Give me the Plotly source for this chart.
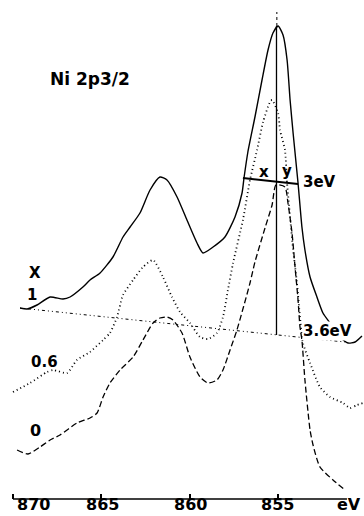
import plotly.graph_objects as go

# Binding energy (eV) and intensity (arb. units)
x1_ev = [869.6, 869.2, 868.64, 867.9, 867.17, 866.77, 866.04, 865.64, 865.07, 864.34,
         863.77, 863.37, 862.81, 862.24, 861.68, 861.28, 860.71, 860.15, 859.58, 859.24,
         858.67, 858.0, 857.43, 857.03, 856.92, 856.7, 856.3, 855.9, 855.56, 855.28,
         854.99, 854.71, 854.48, 854.31, 854.14, 853.86, 853.64, 853.47, 853.18, 852.79,
         852.45, 852.05, 851.48, 851.03, 850.63, 850.24]
x1_I = [19.1, 19.0, 19.4, 20.2, 20.0, 20.2, 21.2, 21.9, 22.6, 24.2,
        26.2, 27.2, 28.6, 30.9, 32.2, 31.9, 30.2, 27.9, 25.6, 24.6,
        25.2, 26.2, 28.2, 30.6, 32.1, 34.7, 38.2, 41.9, 44.9, 46.6,
        47.3, 46.4, 43.9, 39.9, 36.6, 31.6, 27.2, 24.9, 22.2, 20.2,
        18.6, 17.6, 16.2, 15.6, 15.7, 16.3]

x06_ev = [870.0, 869.04, 868.07, 867.73, 866.94, 866.38, 865.64, 864.9, 864.51, 864.11,
          863.77, 863.2, 862.64, 862.07, 861.51, 861.0, 860.54, 859.98, 859.41, 858.96,
          858.45, 858.11, 857.83, 857.54, 856.98, 856.58, 856.18, 855.84, 855.45, 855.33,
          854.99, 854.88, 854.6, 854.48, 854.31, 854.14, 853.92, 853.75, 853.58, 853.18,
          852.62, 852.05, 851.31, 850.92, 850.52, 850.18]
x06_I = [10.7, 11.6, 12.7, 12.9, 12.6, 13.9, 14.7, 15.9, 16.6, 18.2,
         20.4, 21.9, 23.2, 23.9, 22.2, 20.2, 18.7, 17.6, 16.2, 16.0,
         16.6, 18.2, 20.9, 23.6, 27.9, 31.9, 34.9, 37.7, 39.7, 39.9,
         38.6, 36.9, 34.9, 31.6, 28.2, 24.9, 21.6, 18.2, 15.6, 13.6,
         11.2, 10.2, 9.6, 9.1, 9.4, 9.6]

x0_ev = [869.77, 869.15, 868.47, 867.9, 867.34, 866.38, 865.64, 865.24, 864.9, 864.51,
         863.94, 863.2, 862.64, 862.07, 861.68, 861.28, 860.94, 860.43, 859.98, 859.41,
         858.96, 858.45, 858.11, 857.71, 857.32, 856.58, 856.3, 855.73, 855.33, 855.11,
         854.6, 854.43, 854.2, 854.03, 853.86, 853.75, 853.64, 853.47, 853.18, 853.01,
         852.62, 851.88, 851.2]
x0_I = [4.9, 4.5, 5.2, 5.9, 6.4, 7.6, 8.1, 8.6, 10.2, 11.6,
        12.9, 14.2, 15.9, 17.6, 18.1, 18.2, 17.9, 16.6, 14.2, 12.2,
        11.6, 11.9, 12.9, 14.9, 16.9, 21.6, 23.7, 27.1, 29.4, 31.4,
        31.2, 29.6, 26.6, 23.2, 19.9, 17.2, 15.9, 11.9, 6.9, 5.4,
        3.2, 1.9, 0.9]

# construction lines
baseline_ev = [869.6, 851.2]
baseline_I = [19.1, 15.7]
vline_ev = [855.08, 855.08]
vline_I = [16.4, 47.3]
vtop_ev = [855.06, 855.06]
vtop_I = [47.3, 48.7]
fwhm_ev = [856.98, 853.86]
fwhm_I = [32.1, 31.5]

tick_vals = [870, 865, 860, 855]
tick_labels = ["870", "865", "860", "855"]
unit_label = "eV"
unit_ev = 851.0

FONT = "DejaVu Sans"
fig = go.Figure()

fig.add_trace(go.Scatter(x=baseline_ev, y=baseline_I, mode="lines",
                         line=dict(color="black", width=1, dash="1px,3px,1px,3px,3px,3px")))
fig.add_trace(go.Scatter(x=vline_ev, y=vline_I, mode="lines",
                         line=dict(color="black", width=1.3)))
fig.add_trace(go.Scatter(x=vtop_ev, y=vtop_I, mode="lines",
                         line=dict(color="black", width=1, dash="3px,3px")))
fig.add_trace(go.Scatter(x=fwhm_ev, y=fwhm_I, mode="lines",
                         line=dict(color="black", width=2)))
fig.add_trace(go.Scatter(x=x0_ev, y=x0_I, mode="lines", line_shape="spline",
                         line=dict(color="black", width=1.3, dash="6px,3px", smoothing=0.6)))
fig.add_trace(go.Scatter(x=x06_ev, y=x06_I, mode="lines", line_shape="spline",
                         line=dict(color="black", width=1.8, dash="1px,3px", smoothing=0.6)))
fig.add_trace(go.Scatter(x=x1_ev, y=x1_I, mode="lines", line_shape="spline",
                         line=dict(color="black", width=1.4, smoothing=0.6)))

def ann(text, x, y, size, **kw):
    fig.add_annotation(text=text, x=x, y=y, xref="x", yref="y", showarrow=False,
                       font=dict(family=FONT, size=size, color="black", weight="bold"),
                       xanchor="center", yanchor="middle", **kw)

ann("Ni 2p3/2", 865.64, 42.0, 17)
ann("X", 868.78, 22.6, 15)
ann("1", 868.9, 20.4, 15)
ann("0.6", 868.24, 13.7, 15)
ann("0", 868.7, 6.9, 16)
ann("x", 855.79, 32.7, 15)
ann("y", 854.46, 32.8, 15)
ann("3eV", 852.64, 31.7, 15)
ann("3.6eV", 852.22, 16.8, 15, bgcolor="white", borderpad=0)

# tick labels (the first one sits to the right of its tick, as in the original)
label_shift = [20, 1, 1, 0]
for txt, xv, sh in zip(tick_labels, tick_vals, label_shift):
    fig.add_annotation(text=txt, x=xv, y=-16 / 499, xref="x", yref="paper", showarrow=False,
                       font=dict(family=FONT, size=16, color="black", weight="bold"),
                       xanchor="center", yanchor="bottom", borderpad=0, xshift=sh)
fig.add_annotation(text=unit_label, x=unit_ev, y=-16 / 499, xref="x", yref="paper",
                   showarrow=False, borderpad=0,
                   font=dict(family=FONT, size=16, color="black", weight="bold"),
                   xanchor="center", yanchor="bottom")

fig.add_shape(type="line", xref="x", yref="paper", x0=870, x1=851.09, y0=0, y1=0,
              line=dict(color="black", width=1.5))

fig.update_layout(
    width=364, height=516,
    margin=dict(l=0, r=0, t=0, b=17),
    paper_bgcolor="white", plot_bgcolor="white",
    showlegend=False,
    xaxis=dict(range=[870.736, 850.125], tickvals=tick_vals, showticklabels=False,
               ticks="inside", ticklen=5, tickwidth=1.5, tickcolor="black",
               showline=False, showgrid=False, zeroline=False, automargin=False),
    yaxis=dict(range=[0, 49.9], visible=False, automargin=False),
)

fig.write_html("out.html")
